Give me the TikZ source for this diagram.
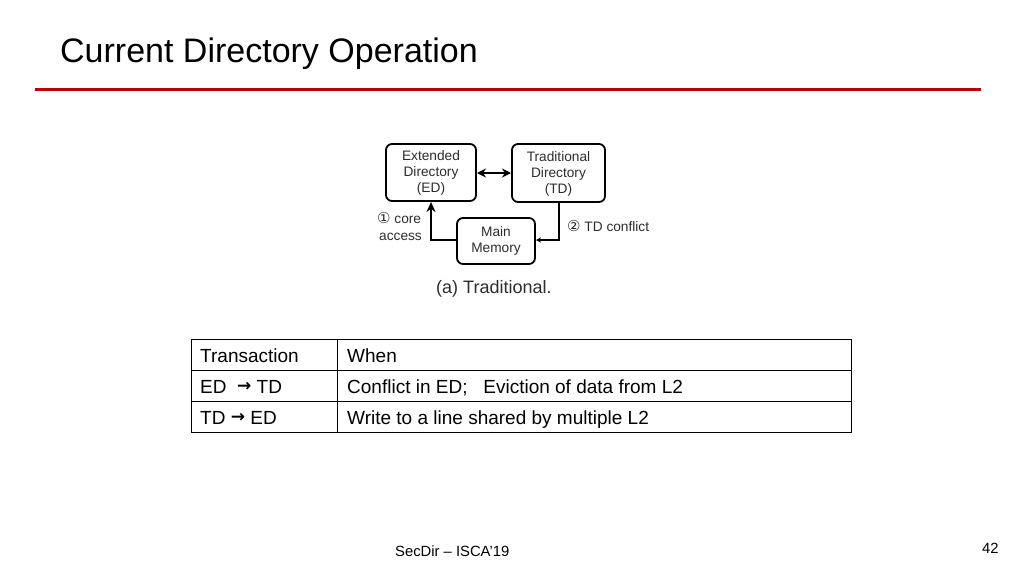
\documentclass[tikz,border=0pt]{standalone}
\usepackage{fontspec}
\setmainfont{Liberation Sans}
\newfontfamily\symfont{DejaVu Sans}
\usetikzlibrary{arrows.meta}
\definecolor{titlered}{RGB}{192,0,0}
\definecolor{boxtext}{RGB}{45,45,45}
\newcommand{\tarrow}{\raisebox{1.5pt}{\symfont\bfseries\fontsize{17}{18}\selectfont →}}
\begin{document}
\begin{tikzpicture}[x=1pt,y=-1pt,
  blk/.style={draw=black,line width=1.8pt,rounded corners=6pt,inner sep=0pt},
  blktext/.style={text=boxtext,font=\fontsize{13.7}{16}\selectfont,align=center},
  lbl/.style={text=boxtext,font=\fontsize{13.7}{16}\selectfont},
  conn/.style={line width=1.8pt,-{Stealth[length=10pt,width=9pt]}},
  cell/.style={font=\fontsize{19}{20}\selectfont,anchor=base west,inner sep=0pt,text=black},
  tline/.style={line width=0.8pt,draw=black}]
\useasboundingbox[fill=white] (0,0) rectangle (1024,576);
% title
\node[anchor=base west,inner sep=0pt,font=\fontsize{34}{36}\selectfont] (title) at (60,62) {Current Directory Operation};
\draw[titlered,line width=3pt] (35,89) -- (981,89);
% diagram boxes
\draw[blk] (386,144) rectangle (476,201);
\node[blktext] (ed) at (431,173) {Extended\\Directory\\(ED)};
\draw[blk] (512,144) rectangle (605,202);
\node[blktext] (td) at (558.5,173.5) {Traditional\\Directory\\(TD)};
\draw[blk] (457,218) rectangle (535,264);
\node[blktext] (mm) at (496,241) {Main\\Memory};
\coordinate (edR) at (477,173);
\coordinate (tdL) at (511,173);
\coordinate (edB) at (431,202);
\coordinate (mmL) at (456,240);
\coordinate (mmR) at (536,240);
\coordinate (tdB) at (559,202);
\draw[line width=1.8pt,{Stealth[length=9pt,width=9pt]}-{Stealth[length=9pt,width=9pt]}] (edR) -- (tdL);
\draw[conn] (mmL) -- (431,240) -- (edB);
\draw[line width=1.8pt,-{Stealth[length=5pt,width=5pt]}] (tdB) -- (559,240) -- (mmR);
\node[lbl,anchor=base west,inner sep=0pt] (l1) at (377,223) {{\symfont\fontsize{15}{16}\selectfont ①} core};
\node[lbl,anchor=base west,inner sep=0pt] (l1b) at (379,240) {access};
\node[lbl,anchor=base west,inner sep=0pt] (l2) at (567,231) {{\symfont\fontsize{15}{16}\selectfont ②} TD conflict};
\node[anchor=base west,inner sep=0pt,text=boxtext,font=\fontsize{18}{20}\selectfont] (cap) at (436,293) {(a) Traditional.};
% table
\draw[tline] (191,339) rectangle (851,432);
\draw[tline] (191,370) -- (851,370);
\draw[tline] (191,401) -- (851,401);
\draw[tline] (337,339) -- (337,432);
\node[cell] (c11) at (200,362) {Transaction};
\node[cell] (c12) at (347,362) {When};
\node[cell] (c21) at (200,393) {ED\ \ \tarrow\ TD};
\node[cell] (c22) at (347,393) {Conflict in ED;\ \ \ Eviction of data from L2};
\node[cell] (c31) at (200,424) {TD \tarrow\ ED};
\node[cell] (c32) at (347,424) {Write to a line shared by multiple L2};
% footer
\node[anchor=base west,inner sep=0pt,font=\fontsize{14.8}{16}\selectfont] (foot) at (395,556) {SecDir – ISCA’19};
\node[anchor=base west,inner sep=0pt,font=\fontsize{14.8}{16}\selectfont] (page) at (982,553) {42};
\end{tikzpicture}
\end{document}
